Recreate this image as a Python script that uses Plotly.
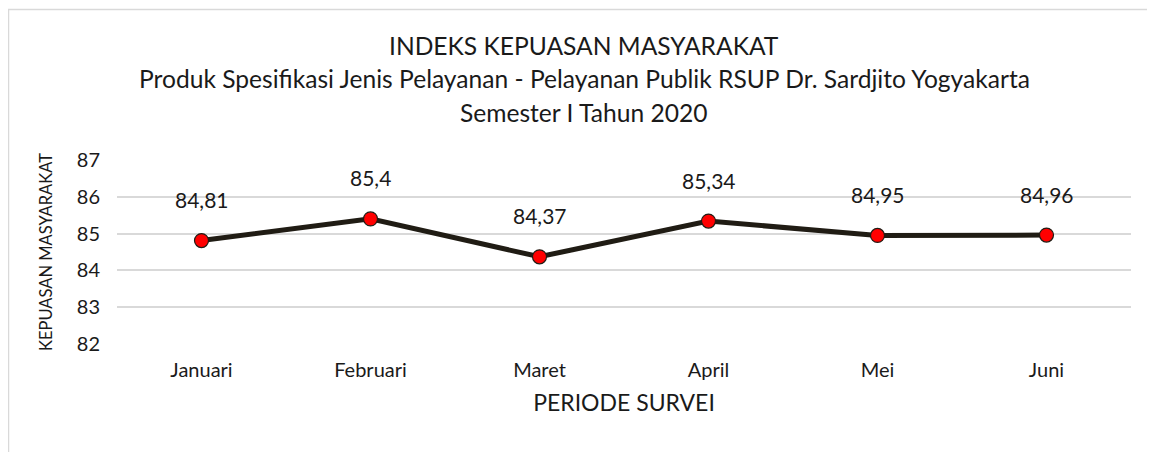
import plotly.graph_objects as go

bulan = ["Januari", "Februari", "Maret", "April", "Mei", "Juni"]
nilai = [84.81, 85.40, 84.37, 85.34, 84.95, 84.96]
label = ["84,81", "85,4", "84,37", "85,34", "84,95", "84,96"]
y_ticks = [82, 83, 84, 85, 86, 87]

FONT = "Lato, Calibri, Arial"
INK = "#1a1a1a"

# page offset of the plot div (body margin)
OFF = 8
PL, PR, PT, PB = 117, 1131, 160, 344   # plot area in screen px

fig = go.Figure()
fig.add_trace(go.Scatter(
    x=bulan, y=nilai,
    mode="lines+markers",
    line=dict(color="#201c14", width=5),
    marker=dict(size=14, color="#ff0000", line=dict(color="#201c14", width=1.2)),
    cliponaxis=False,
    hoverinfo="x+y",
))

for b, v, t in zip(bulan, nilai, label):
    fig.add_annotation(
        x=b, y=v, text=t, showarrow=False, yshift=41,
        xanchor="center", yanchor="middle",
        font=dict(size=21, family=FONT, color=INK),
    )

# judul tiga baris
judul = [
    "INDEKS KEPUASAN MASYARAKAT",
    "Produk Spesifikasi Jenis Pelayanan - Pelayanan Publik RSUP Dr. Sardjito Yogyakarta",
    "Semester I Tahun 2020",
]
for i, t in enumerate(judul):
    py = 46 + 33 * i
    fig.add_annotation(
        text=t, xref="paper", yref="paper",
        x=(584 - PL) / (PR - PL), y=(PB - py) / (PB - PT),
        showarrow=False, xanchor="center", yanchor="middle",
        font=dict(size=24.6, family=FONT, color=INK),
    )

# bingkai chart
fig.add_shape(
    type="rect", xref="paper", yref="paper",
    x0=(8.5 - PL) / (PR - PL), x1=1.1, y0=-0.8, y1=(PB - 9.5) / (PB - PT),
    line=dict(color="#d9d9d9", width=1.5), layer="below",
)

fig.update_layout(
    width=1155, height=452,
    margin=dict(l=PL - OFF, r=1155 + OFF - PR, t=PT - OFF, b=452 + OFF - PB),
    paper_bgcolor="white", plot_bgcolor="white",
    showlegend=False,
    font=dict(family=FONT, color=INK),
    xaxis=dict(
        range=[-0.5, 5.5],
        showgrid=False, zeroline=False, showline=False, ticks="",
        tickfont=dict(size=20, family=FONT, color=INK),
        ticklabelstandoff=12,
        title=dict(text="PERIODE SURVEI", font=dict(size=23, family=FONT, color=INK), standoff=14),
    ),
    yaxis=dict(
        range=[82, 87], tickvals=y_ticks,
        showgrid=True, gridcolor="#d9d9d9", gridwidth=1.5,
        zeroline=False, showline=False, ticks="",
        tickfont=dict(size=20, family=FONT, color=INK),
        ticklabelstandoff=16,
        title=dict(text="KEPUASAN MASYARAKAT", font=dict(size=16.5, family=FONT, color=INK), standoff=20),
    ),
)

fig.write_html("out.html")
